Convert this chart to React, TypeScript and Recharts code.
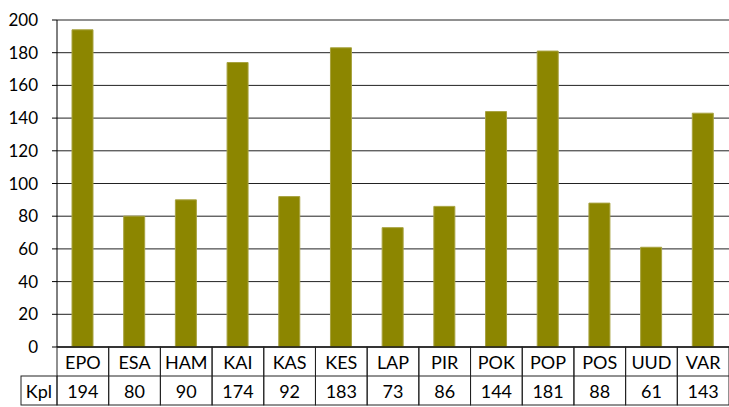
import { BarChart, Bar, XAxis, YAxis, CartesianGrid } from 'recharts';

const categories = ['EPO', 'ESA', 'HAM', 'KAI', 'KAS', 'KES', 'LAP', 'PIR', 'POK', 'POP', 'POS', 'UUD', 'VAR'];
const kpl = [194, 80, 90, 174, 92, 183, 73, 86, 144, 181, 88, 61, 143];
const yTicks = [0, 20, 40, 60, 80, 100, 120, 140, 160, 180, 200];
const rowLabel = 'Kpl';

const data = categories.map((name, i) => ({ name, kpl: kpl[i] }));

const W = 729;
const H = 407;
const AXIS_W = 57;
const TABLE_H = 58;
const BOTTOM = 2;
const FONT = 'Lato, "Open Sans", sans-serif';
const LINE = '#222';
const CELL_FS = 18;

const tableTop = H - BOTTOM - TABLE_H;
const rowH = TABLE_H / 2;
const bandW = (W - AXIS_W) / categories.length;

function TableTick(props: any) {
  const { x, payload, index } = props;
  const left = x - bandW / 2;
  return (
    <g>
      {index === 0 && (
        <g>
          <rect x={21} y={tableTop + rowH} width={AXIS_W - 21} height={rowH} fill="none" stroke={LINE} />
          <text x={(21 + AXIS_W) / 2} y={tableTop + rowH * 1.5} textAnchor="middle" dominantBaseline="central" fontSize={CELL_FS} fill="#000" fontFamily={FONT}>
            {rowLabel}
          </text>
        </g>
      )}
      <rect x={left} y={tableTop} width={bandW} height={TABLE_H} fill="none" stroke={LINE} />
      <line x1={left} x2={left + bandW} y1={tableTop + rowH} y2={tableTop + rowH} stroke={LINE} />
      <text x={x} y={tableTop + rowH / 2} textAnchor="middle" dominantBaseline="central" fontSize={CELL_FS} fill="#000" fontFamily={FONT}>
        {payload.value}
      </text>
      <text x={x} y={tableTop + rowH * 1.5} textAnchor="middle" dominantBaseline="central" fontSize={CELL_FS} fill="#000" fontFamily={FONT}>
        {kpl[index]}
      </text>
    </g>
  );
}

export default function App() {
  return (
    <div style={{ position: 'absolute', left: 0, top: 0, background: '#fff' }}>
      <BarChart width={W} height={H} data={data} margin={{ top: 20, right: 0, bottom: BOTTOM, left: 0 }}>
        <CartesianGrid vertical={false} stroke={LINE} />
        <XAxis
          dataKey="name"
          height={TABLE_H}
          tick={<TableTick />}
          tickLine={false}
          axisLine={{ stroke: '#000' }}
          interval={0}
        />
        <YAxis
          width={AXIS_W}
          domain={[0, 200]}
          ticks={yTicks}
          tickSize={5}
          tickMargin={14}
          tickLine={{ stroke: '#000' }}
          axisLine={{ stroke: '#000' }}
          tick={{ fontSize: 17, fill: '#000', fontFamily: FONT }}
        />
        <Bar dataKey="kpl" fill="#8c8600" stroke="#a8a340" barSize={21} isAnimationActive={false} />
      </BarChart>
    </div>
  );
}
